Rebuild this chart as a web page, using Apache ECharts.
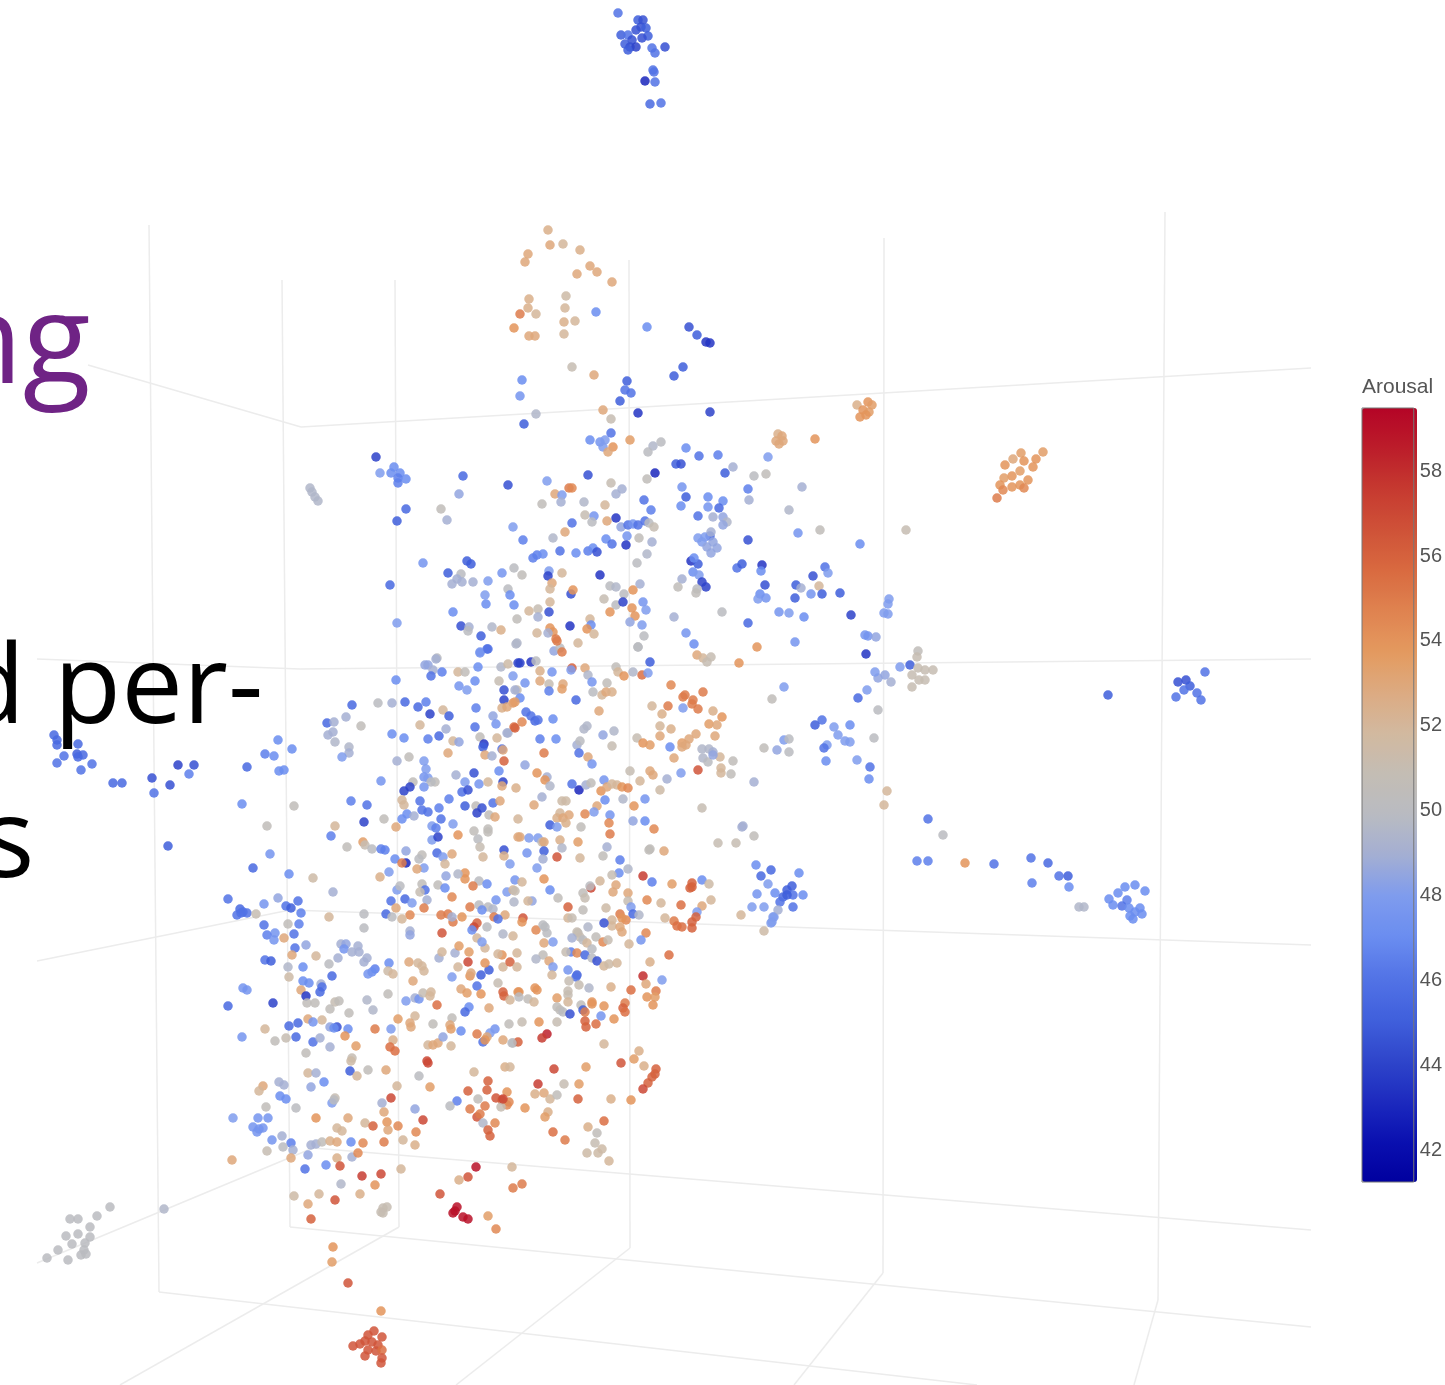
<!DOCTYPE html>
<html>
<head>
<meta charset="utf-8">
<title>Arousal</title>
<script src="https://cdn.jsdelivr.net/npm/echarts@6/dist/echarts.min.js"></script>
<style>
html, body { margin: 0; padding: 0; background: #fff; }
#chart { width: 1445px; height: 1385px; }
</style>
</head>
<body>
<div id="chart"></div>
<script>
let topCluster = [[618,13,46],[638,20,45],[643,20,44.5],[641,27,44.5],[646,28,45],[636,30,44.5],[621,35,45],[628,35,46],[648,36,45],[642,38,44.5],[632,40,44.5],[625,44,45],[630,47,44.5],[636,47,44],[628,50,45],[652,48,46],[665,47,44.5],[655,53,46],[653,70,46],[654,72,46],[645,81,43],[655,82,46],[650,104,45.5],[661,103,46]];

let upperGroup = [[548,230,52.5],[563,244,52],[550,245,53],[580,250,52.5],[528,254,53],[525,262,53],[590,266,53],[597,272,53],[577,274,53],[612,282,53],[566,296,51.5],[529,299,52.5],[528,308,52.5],[565,308,52],[520,314,55],[536,314,52],[575,321,52],[564,322,52.5],[596,312,47],[514,328,54],[529,336,53],[535,336,53],[564,334,52],[647,327,47],[689,327,44.5],[697,335,45],[706,342,43.5],[710,343,43.5],[683,367,45],[674,376,45],[572,367,51],[594,375,53],[522,380,47],[520,396,47.5],[627,381,45],[625,390,46],[631,393,46],[620,401,45],[778,434,52.5],[782,436,53],[776,441,53],[783,441,53],[779,444,53],[815,439,54],[857,405,52.5],[868,402,54],[872,405,53.5],[863,410,54],[869,412,53.5],[860,417,54],[866,415,54],[1021,453,53.5],[1043,452,53.5],[1036,459,54],[1013,459,53],[1024,461,54],[1005,465,54],[1033,467,54],[1020,471,53.5],[1012,476,54],[1004,478,53.5],[1028,480,54],[1020,485,54],[1012,487,54],[1024,488,54.5],[1000,485,54],[1003,490,54.5],[997,498,55],[310,488,49.5],[312,492,49.5],[315,497,49.5],[318,501,49.5]];

let midUpperLeft = [[376,457,44],[380,473,48],[391,473,47],[394,467,47],[400,473,47],[398,478,46.5],[406,479,47],[398,483,46.5],[406,509,45.5],[397,521,45],[463,476,45.5],[459,494,48.5],[441,509,50.5],[447,520,49],[508,485,44.5],[547,481,48],[588,475,44.5],[611,483,51],[622,489,49],[616,494,49],[569,488,55],[572,488,54.5],[555,494,53],[562,495,48],[561,502,49],[542,504,50.5],[584,502,49.5],[605,505,52],[644,500,46],[651,510,46.5],[655,473,43],[647,479,50.5],[536,414,49.5],[524,424,45],[603,410,53],[611,419,51],[638,413,43.5],[590,440,47],[611,433,46],[600,442,47.5],[605,440,48],[603,447,48],[613,447,54],[608,452,53],[630,440,53.5],[661,442,50],[653,446,49.5],[648,452,50],[585,515,51],[594,516,47.5],[592,522,50],[607,521,53],[616,518,43.5],[621,527,48.5],[628,525,46],[633,524,47.5],[638,525,46],[645,521,46],[649,523,50],[654,527,51],[572,523,46],[565,532,53],[553,538,49.5],[513,527,48],[523,540,46.5],[606,539,47],[612,544,46],[627,536,47.5],[626,545,43.5],[639,538,50.5],[652,542,49],[647,554,49.5],[637,563,50],[533,558,46.5],[537,555,46.5],[543,554,47],[560,551,46],[576,553,47],[588,551,46.5],[593,548,47],[597,552,44.5],[423,563,47.5],[467,561,45],[471,564,45],[448,573,45],[461,574,50],[457,579,49],[452,584,49],[462,582,49],[473,582,49],[488,581,48],[502,573,47.5],[514,568,50],[522,575,50.5],[549,571,48],[548,576,44],[562,573,52],[552,583,53],[550,589,52],[600,575,43.5],[610,586,50],[616,587,49.5],[640,584,49],[633,590,54],[624,594,50],[604,599,51],[616,605,50],[623,602,44],[643,602,47.5],[646,610,48],[632,608,54],[635,616,54],[610,612,54],[630,622,48.5],[642,625,48],[644,636,50],[638,647,50],[390,585,45.5],[485,595,48],[486,604,47],[508,589,50],[510,595,47],[514,605,47],[453,612,47],[397,623,48],[571,594,44.5],[573,590,54],[550,602,52],[529,611,52],[538,609,51],[538,617,49],[517,619,50.5],[549,612,44.5],[461,626,44.5],[469,627,49],[468,631,50],[492,627,49.5],[501,630,52.5],[481,636,45],[517,643,49.5],[487,649,46],[480,652,47.5],[437,658,50],[570,626,43.5],[550,628,54],[553,632,54],[537,633,52],[548,633,49],[590,619,52],[591,625,47],[587,629,54],[594,634,52],[556,639,55],[578,643,52],[554,651,48.5],[560,648,50],[562,652,55]];

let midUpperRight = [[710,412,44],[686,448,47],[699,456,46],[718,455,46.5],[676,464,45],[681,464,44.5],[725,473,45],[733,467,49],[754,476,50],[766,474,50.5],[768,457,48],[748,489,46.5],[749,500,49],[802,487,49],[789,510,49.5],[682,487,47.5],[686,497,45],[708,497,47],[681,506,47],[723,501,47],[708,507,47.5],[719,508,45.5],[698,516,46],[713,517,49],[723,517,48.5],[727,522,49.5],[723,525,48.5],[798,533,47.5],[820,530,50.5],[906,530,51],[860,544,47],[748,540,44.5],[710,536,45.5],[698,538,48],[705,537,48],[711,532,49],[702,542,48],[713,542,48.5],[707,547,48.5],[717,548,48.5],[711,553,48.5],[691,561,43.5],[698,564,45],[694,558,47],[693,572,47],[699,575,48],[682,579,49],[678,587,50.5],[702,582,44],[706,587,44],[697,589,50],[696,593,50.5],[737,568,46],[742,564,45],[762,565,43.5],[761,571,47],[765,585,44.5],[760,594,47],[758,599,48],[766,598,47.5],[825,567,46],[828,573,48],[813,576,44.5],[796,585,45],[801,588,49],[819,586,52],[811,594,47.5],[822,594,45],[840,593,45],[795,598,45],[674,617,49],[722,612,50],[779,612,47.5],[789,613,48],[804,617,47],[748,623,45.5],[851,615,44],[889,599,48],[888,604,48],[884,613,48],[888,614,48],[686,633,47.5],[694,644,47],[795,642,47.5],[757,647,54],[865,635,47.5],[868,636,47.5],[876,637,48.5],[866,654,43.5],[918,651,50.5],[917,657,51],[697,655,53],[703,658,52],[711,657,51],[707,662,51],[739,663,54]];

let farLeft = [[54,735,45.5],[57,740,45.5],[57,745,45.5],[78,744,45.5],[64,756,46],[57,763,46],[77,754,45],[83,755,45.5],[78,757,45.5],[92,764,46],[81,770,46],[113,783,45.5],[122,783,45.5],[152,778,44.5],[154,793,46],[170,785,44.5],[178,765,44],[194,765,44.5],[189,774,46.5],[168,846,45],[278,740,47],[292,749,47],[265,754,46.5],[274,756,47],[247,767,45.5],[279,771,47],[284,770,47],[242,804,47],[294,806,50.5],[267,826,50.5],[270,854,47.5],[253,868,45.5],[289,874,47]];

let centerLeft = [[396,680,47],[425,665,48.5],[428,665,48.5],[436,659,49],[433,670,49],[431,676,46],[442,672,46.5],[458,672,52],[465,672,50.5],[478,667,47],[480,653,47.5],[488,649,46],[516,644,49.5],[501,667,49.5],[508,664,51.5],[518,663,44],[459,686,47.5],[467,690,48],[475,681,47],[499,681,51],[513,676,48],[504,690,44.5],[517,690,51],[504,700,44],[513,703,54],[502,708,52.5],[507,707,53],[352,705,45.5],[378,703,50],[392,703,49],[405,702,45.5],[418,707,45.5],[426,702,46.5],[430,714,44],[443,710,52],[449,716,45],[476,708,46.5],[493,716,48.5],[496,724,47.5],[514,727,55.5],[508,733,49.5],[327,723,45.5],[334,722,49],[346,717,49],[361,726,50.5],[328,735,49],[333,732,49],[335,742,49.5],[349,747,49.5],[349,753,49],[342,757,48],[392,734,47],[404,738,47],[420,725,52],[428,739,46.5],[439,736,45.5],[446,729,49],[453,741,52],[459,742,48.5],[475,727,46],[480,737,50.5],[497,738,52],[484,744,43.5],[483,747,45],[502,749,46],[503,750,53],[485,755,53],[492,756,49],[448,753,53],[504,761,56],[397,761,49],[409,757,50.5],[424,761,48],[426,769,48],[424,777,47.5],[428,778,48],[435,782,50.5],[431,782,50],[413,782,50.5],[424,787,47.5],[381,781,47.5],[410,787,44],[404,791,44],[456,775,49],[474,773,44.5],[465,782,48],[479,784,47.5],[488,782,52],[499,771,47],[503,782,44],[502,786,53],[516,788,52.5],[462,792,46],[468,790,44.5],[449,799,46.5],[420,801,46],[402,800,52],[404,805,52],[351,801,46.5],[367,805,46],[439,808,46.5],[465,806,45],[476,806,50.5],[482,808,44.5],[493,803,46],[500,801,53],[477,813,44],[422,810,46],[428,812,46],[489,815,50.5],[495,817,53],[518,819,52],[402,819,47],[407,814,47],[414,816,49],[364,822,44],[384,819,50.5],[441,819,46],[396,827,53],[335,826,52],[331,836,46.5],[432,826,48],[436,828,46.5],[453,824,48],[432,840,48],[438,837,44],[458,835,54],[474,831,50.5],[488,829,50.5],[488,832,50.5],[478,839,50],[518,837,53],[363,842,53.5],[365,845,51],[347,847,50.5],[372,849,50],[381,849,46.5],[385,850,46.5],[406,851,48.5],[395,859,47],[437,853,45.5],[443,857,48],[452,854,53],[480,847,51],[504,850,44.5],[422,855,50.5],[419,859,50],[483,857,52],[504,856,52.5],[406,863,43],[402,863,55],[510,864,48],[424,868,48],[417,869,53],[445,864,52],[389,872,48],[380,877,52.5],[446,876,48.5],[465,873,54],[465,879,54],[515,880,47.5],[479,881,50],[458,874,49.5],[438,885,50.5],[422,884,50.5],[487,884,47],[473,886,55],[397,890,48],[400,886,50],[425,890,46],[420,892,51],[445,888,47],[507,892,48],[513,890,52],[514,902,49.5],[496,900,47.5],[452,897,54.5],[391,901,46],[405,899,45.5],[412,903,48],[427,900,49],[424,908,55],[396,908,53],[470,907,55],[479,905,50],[488,907,50],[493,909,49.5],[482,910,47],[386,914,45.5],[392,917,50],[410,915,54.5],[402,919,52],[441,915,55],[448,914,55],[462,917,54],[453,922,55],[452,917,49],[505,915,53],[494,917,55],[498,919,46],[477,923,56],[474,927,57],[472,930,47],[487,927,50],[364,914,50],[364,928,50],[329,917,52],[410,931,49],[410,935,48.5],[442,933,56.5],[503,934,49.5],[513,936,52],[477,938,52],[228,899,46],[240,909,45.5],[237,915,46],[243,912,46],[247,913,46],[241,913,46],[256,914,51],[264,904,47.5],[278,898,48.5],[286,906,46],[291,908,45],[298,901,46],[301,913,46.5],[264,925,46],[288,924,50.5],[299,924,46.5],[275,933,47.5],[267,935,46.5],[294,934,46],[284,938,53],[313,878,51.5],[333,892,49]];

let centerRight = [[638,647,50],[557,641,55],[520,663,44],[531,662,43.5],[536,661,50],[572,668,56],[571,670,48],[540,671,52.5],[552,672,47.5],[585,668,53],[525,683,47.5],[540,681,53],[563,684,53],[549,684,51],[562,689,53.5],[549,691,46.5],[588,675,49.5],[592,682,47.5],[607,683,50.5],[616,667,50.5],[618,672,52],[624,676,54],[633,672,49.5],[642,675,55.5],[648,673,48],[650,662,45],[593,692,50],[602,695,52],[606,692,53],[612,692,52.5],[515,690,49],[576,700,45.5],[520,698,47],[515,702,53.5],[599,711,53],[671,685,54.5],[652,706,52],[668,706,55],[683,697,55],[685,695,55],[693,700,55],[703,692,55],[692,704,55],[698,709,55],[683,708,48],[713,711,52.5],[722,717,54],[709,724,53.5],[717,725,53],[662,714,52.5],[660,726,52],[671,729,52.5],[660,736,53],[715,736,53],[696,734,53],[689,739,53],[682,743,53.5],[686,745,53],[682,747,53],[637,738,51],[643,743,54],[650,745,53.5],[670,747,47],[674,758,53],[526,712,46],[531,716,46],[535,721,45.5],[538,720,46],[553,719,47],[522,722,54.5],[515,728,56],[507,733,49],[587,726,49.5],[584,729,49.5],[614,731,49.5],[603,735,48.5],[540,739,46.5],[556,739,47],[577,745,49],[580,741,50],[612,746,51],[579,753,46],[544,753,55],[588,757,53],[592,764,47.5],[525,765,48.5],[702,749,49.5],[709,749,49.5],[713,752,49],[703,758,49.5],[708,762,50],[720,757,52],[713,755,48.5],[733,761,50.5],[764,748,50.5],[777,750,48.5],[784,740,48],[789,739,50],[789,752,50],[784,687,48],[772,699,50.5],[630,771,51],[650,771,53],[653,775,53],[681,773,48],[667,779,49],[698,770,56.5],[721,768,52],[721,773,52],[731,774,50.5],[754,782,49],[640,781,52],[660,790,51.5],[537,773,54],[547,777,49],[545,780,54],[550,786,49.5],[572,784,46],[579,790,43],[586,785,49],[591,783,50.5],[604,780,47.5],[601,791,54],[607,787,53],[612,784,52],[617,785,52],[622,787,54],[628,788,54.5],[542,797,49],[534,805,53],[562,801,51.5],[566,801,51.5],[597,806,53],[605,800,47],[623,799,49.5],[645,799,47.5],[634,806,54],[594,812,48],[585,814,54.5],[610,815,47.5],[702,808,51],[560,813,52],[569,815,53],[557,818,52.5],[563,818,53],[566,823,52.5],[550,825,45],[557,827,48],[581,827,50.5],[609,823,54.5],[633,821,48.5],[645,821,47],[654,829,54.5],[610,834,55],[743,826,49],[742,827,49],[754,836,50.5],[718,843,51],[736,843,51],[664,851,53],[650,849,50.5],[649,850,50.5],[520,837,53],[529,838,48],[538,838,48],[542,842,51],[544,842,53],[560,840,52.5],[578,842,53.5],[562,848,49.5],[607,847,49],[527,853,47.5],[544,851,45],[543,859,49],[557,857,56.5],[580,858,52],[603,856,50.5],[620,860,46.5],[537,868,48],[619,873,47],[628,869,49.5],[612,875,51],[544,879,54],[522,882,52],[600,881,52],[643,876,57.5],[652,882,46.5],[672,884,53.5],[692,883,56],[692,887,56],[690,888,56],[702,880,47],[709,884,51.5],[591,888,57],[590,886,50],[616,885,53],[613,892,53],[550,890,47],[515,891,51],[583,893,50.5],[628,893,53],[558,898,50.5],[585,898,51],[532,901,48.5],[528,901,52],[628,901,51],[647,900,54.5],[661,903,52],[681,905,55.5],[711,900,52],[702,906,53],[697,912,48],[568,907,56],[583,910,50.5],[606,908,51.5],[631,907,48],[523,918,56.5],[522,922,54],[620,914,55],[633,914,45.5],[639,915,49.5],[626,920,54.5],[622,918,54],[612,920,52],[612,926,52],[620,927,53],[622,932,53],[604,923,44.5],[568,918,52],[572,918,51],[665,918,52],[674,921,55],[677,926,55.5],[682,927,55.5],[692,922,56],[696,917,56],[692,928,56],[741,915,52],[764,931,51.5],[772,922,48],[774,917,48],[536,930,54.5],[545,927,50],[547,933,50],[588,927,49.5],[578,933,50.5],[580,937,51],[646,933,54.5]];

let rightGroups = [[756,865,47],[771,870,45.5],[761,876,45.5],[768,884,48],[799,873,47],[757,894,47.5],[775,893,47],[787,890,45],[792,886,45],[783,897,45.5],[793,895,46],[780,902,46],[793,907,46],[752,907,48],[764,907,48],[778,910,49],[773,917,48],[771,923,48],[787,895,45],[803,895,47],[1205,672,46],[1186,680,44.5],[1178,682,44.5],[1190,686,45],[1184,690,46],[1197,693,46],[1176,697,46],[1201,700,46],[1108,695,45],[910,665,45],[900,667,48],[918,668,51],[925,670,51],[933,670,51],[912,675,51],[919,680,51],[885,675,48.5],[878,678,48.5],[875,672,48],[891,682,49],[912,687,51],[925,680,51],[858,698,45.5],[867,690,48],[878,710,50],[822,720,46],[815,725,45],[834,727,48],[850,725,47],[838,735,48],[845,741,48],[827,745,48],[850,742,48],[874,738,50],[826,761,47],[824,748,46],[857,760,48],[870,767,46],[869,779,47],[887,791,52],[884,805,52],[928,819,46],[943,835,50],[917,861,46.5],[928,861,46.5],[965,863,54],[994,864,46],[1031,858,46],[1048,863,45.5],[1032,883,46.5],[1059,876,46],[1068,876,45],[1069,887,47],[1079,907,49.5],[1084,907,49.5],[1109,899,47],[1118,893,47],[1125,887,47],[1135,885,47],[1145,891,47],[1113,905,47],[1127,900,46.5],[1122,906,46],[1129,908,47],[1140,908,47],[1135,912,47],[1130,916,47],[1142,914,47],[1133,919,47]];

let lowerLeft = [[274,940,47.5],[295,948,46],[306,945,48.5],[292,955,53],[316,956,52],[265,960,46],[271,961,45],[288,967,49.5],[303,967,47],[329,964,50],[338,958,49],[341,944,49],[346,944,48.5],[344,949,47.5],[352,952,49],[358,946,49],[359,952,49],[367,958,49],[364,962,49],[389,963,47],[375,969,46.5],[372,972,47],[368,974,47.5],[332,976,45.5],[388,971,51.5],[393,974,52],[289,977,51.5],[303,981,47],[309,983,47],[321,984,49],[322,987,46],[320,992,45.5],[301,990,53],[306,996,43.5],[243,988,47.5],[247,990,47.5],[388,994,50.5],[228,1006,45.5],[273,1003,44],[307,1003,50.5],[315,1003,50.5],[335,1002,51],[339,1001,50.5],[367,1000,49.5],[330,1009,50.5],[349,1013,50.5],[373,1010,49.5],[406,1001,48],[415,998,49],[419,999,47.5],[423,993,51],[431,992,52],[430,996,52],[437,1005,55.5],[413,981,53],[409,962,53],[418,963,52],[424,971,52],[422,966,52],[439,958,49],[442,952,52],[452,977,48],[455,953,49],[459,946,53.5],[469,952,53.5],[468,962,57],[458,967,52],[470,976,54],[471,973,53],[485,948,52],[482,942,48],[481,975,45],[489,970,45],[485,963,54],[477,986,46],[461,989,53],[467,993,53.5],[481,994,54],[469,1007,47],[465,1012,45.5],[489,1008,53],[498,983,51],[502,955,54],[498,954,52],[503,967,52],[510,962,56],[517,953,52],[517,967,52],[503,992,56],[504,996,56],[510,1000,52],[518,992,54],[398,1019,53.5],[415,1016,52],[410,1023,53],[411,1027,53],[433,1024,50.5],[452,1018,50.5],[450,1025,53],[451,1029,53.5],[461,1031,47],[477,1034,55],[495,1029,47.5],[490,1033,48],[487,1037,53],[509,1024,50.5],[483,1042,46],[485,1040,54],[265,1029,52],[289,1026,45.5],[298,1023,45.5],[308,1019,53],[322,1020,52],[313,1022,47.5],[330,1027,48.5],[337,1027,44.5],[334,1028,47],[348,1029,47],[375,1029,55],[391,1029,48],[242,1037,47.5],[275,1041,50.5],[286,1038,51],[296,1037,45.5],[313,1042,46],[320,1038,49],[330,1047,49],[345,1036,54],[356,1046,53.5],[393,1040,52.5],[390,1047,55.5],[395,1051,55.5],[306,1053,50.5],[428,1045,52],[433,1045,53],[438,1043,53],[443,1037,48.5],[451,1046,52],[503,1040,53],[513,1043,50],[518,1042,56],[352,1058,51],[351,1061,51.5],[350,1071,45],[357,1076,52],[368,1070,50.5],[386,1070,53],[427,1061,57],[428,1063,57],[419,1076,50],[308,1073,52],[316,1073,49],[324,1082,47],[311,1087,48.5],[279,1082,49],[284,1085,49],[263,1086,53],[259,1091,52],[397,1086,52],[430,1087,53.5],[474,1072,52],[505,1067,52.5],[510,1067,52],[488,1081,56],[468,1091,56],[487,1090,56],[507,1092,54],[280,1096,47],[286,1099,47],[335,1098,51],[332,1103,48],[334,1100,50],[382,1103,49],[391,1098,57],[457,1101,46.5],[450,1106,50],[478,1099,50.5],[485,1106,55],[496,1098,56.5],[502,1100,56],[509,1102,54.5],[507,1105,54.5],[501,1107,51],[266,1107,50.5],[296,1108,50],[233,1118,48],[258,1118,47.5],[268,1118,47.5],[253,1127,47.5],[257,1132,47.5],[263,1128,47.5],[259,1129,47.5],[316,1118,54],[348,1118,53],[384,1112,53],[415,1109,48.5],[470,1109,55],[477,1117,56.5],[480,1114,55],[423,1120,57],[483,1123,49.5],[365,1123,52],[373,1126,56],[387,1122,54],[388,1130,53],[398,1126,54.5],[337,1128,52],[342,1131,52],[416,1132,54.5],[495,1123,54.5],[488,1130,56],[490,1136,56],[272,1140,47.5],[282,1136,49],[291,1143,46.5],[283,1147,50],[267,1151,51],[293,1150,49],[311,1145,49],[316,1144,49],[322,1142,50.5],[330,1141,52.5],[337,1142,53],[351,1142,47],[363,1143,54.5],[384,1142,55],[403,1140,52],[415,1145,52.5],[232,1160,53],[291,1158,53],[308,1155,48.5],[337,1158,52.5],[352,1157,49],[358,1153,54.5],[305,1169,46],[326,1165,47],[340,1166,56.5],[401,1169,52],[512,1167,52],[362,1176,57.5],[381,1174,57],[341,1184,49.5],[375,1185,54],[459,1180,52.5],[468,1177,56.5],[476,1167,59],[513,1188,55],[319,1194,52],[294,1196,51.5],[335,1200,56.5],[360,1194,52.5],[440,1194,56.5],[308,1204,53],[383,1208,51],[381,1212,51],[387,1207,51],[383,1213,51],[311,1219,56],[455,1211,59],[453,1213,59],[457,1207,59],[463,1217,59],[468,1219,59],[488,1216,53.5],[496,1229,54.5]];

let lowerRight = [[544,943,53],[553,942,48],[543,925,50],[577,932,51],[572,938,49],[583,940,50],[587,943,52],[596,937,50.5],[603,942,54.5],[608,940,51],[592,949,50],[629,944,52],[641,940,47.5],[571,952,46.5],[577,953,54.5],[566,952,51],[585,955,45.5],[592,958,50],[597,961,44.5],[604,966,52],[609,964,51.5],[617,963,52],[669,955,55.5],[650,962,52.5],[543,955,50.5],[536,959,49.5],[549,961,53],[553,967,48],[552,975,52],[568,970,47.5],[577,975,45],[576,977,46],[643,976,58],[662,980,48],[569,981,51],[579,985,51],[589,988,49.5],[611,987,52.5],[631,990,55.5],[646,984,53],[656,991,55],[568,991,51],[568,995,51],[535,988,54],[537,990,54],[519,992,54],[557,998,53.5],[568,1002,52],[592,1002,54],[647,997,54],[655,997,53.5],[519,997,50],[528,999,50.5],[534,1002,52],[592,1004,54],[604,1006,54],[581,1005,50.5],[557,1007,50.5],[653,1005,54],[625,1003,55],[623,1008,56],[625,1012,55.5],[583,1010,45],[585,1012,55],[560,1010,50.5],[563,1012,50],[570,1014,44.5],[601,1016,47.5],[614,1019,54],[585,1021,56],[596,1024,55.5],[586,1027,56],[522,1022,51],[539,1022,54],[557,1022,51],[547,1034,58.5],[542,1038,57.5],[512,1043,50],[604,1044,52],[639,1051,52.5],[634,1059,53.5],[644,1066,52.5],[621,1063,56.5],[586,1067,53.5],[554,1069,57],[656,1069,56],[655,1074,56],[652,1077,56],[648,1083,56],[643,1089,57],[538,1084,57.5],[564,1084,51],[579,1084,53.5],[535,1094,52.5],[544,1093,53],[550,1099,52],[557,1095,50.5],[578,1099,56],[611,1099,52.5],[631,1100,54],[503,1099,57],[525,1108,54],[548,1112,52.5],[545,1117,53.5],[604,1121,55.5],[588,1127,52.5],[553,1132,55.5],[565,1140,55],[597,1133,50.5],[595,1143,51],[587,1153,51.5],[598,1153,51.5],[602,1149,51.5],[609,1161,52],[522,1184,55]];

let bottomGroups = [[333,1247,54],[332,1262,53.5],[348,1283,56.5],[381,1311,54],[374,1331,56.5],[368,1335,56.5],[382,1337,56.5],[353,1346,56.5],[360,1344,56.5],[365,1341,56.5],[372,1342,56.5],[378,1345,56.5],[368,1350,56.5],[376,1351,56.5],[382,1350,55.5],[365,1356,56.5],[382,1358,56.5],[381,1363,56.5],[110,1207,50],[97,1216,50],[78,1219,50],[70,1219,50],[90,1227,50],[78,1234,50],[66,1236,50],[90,1237,50],[85,1243,50],[72,1244,50],[84,1250,50],[81,1255,50],[47,1258,50],[68,1260,50],[86,1254,50],[58,1250,50],[164,1209,49.5]];

// wireframe of the 3d box, [x1, y1, x2, y2]
let boxLines = [[149,225,159,1292],[282,280,290,1227],[395,280,399,1227],[629,260,630,1248],[884,238,883,1273],[1165,212,1158,1300],[88,365,301,427],[301,427,1311,368],[37,659,300,669],[300,669,1311,659],[37,961,290,910],[290,910,1311,945],[37,1263,313,1148],[313,1148,1311,1230],[290,1227,1311,1327],[159,1292,977,1385],[399,1227,120,1385],[630,1248,456,1385],[883,1273,794,1385],[1158,1300,1134,1385]];

let colorTicks = [42, 44, 46, 48, 50, 52, 54, 56, 58];
let colorMin = 41.25;
let colorMax = 59.49;
let colorStops = ['#00009f','#0a10b0','#1d2bbf','#2f46cb','#4060dc','#5273e6','#6a8df0','#7e9bee','#a3aed3','#b9bbc2','#c3bdb4','#d2b9a0','#dcab82','#e49a5f','#df8350','#d96a40','#cf5238','#c63a30','#bc1d2a','#b40426'];

let allPoints = topCluster.concat(upperGroup, midUpperLeft, midUpperRight, farLeft, centerLeft, centerRight, rightGroups, lowerLeft, lowerRight, bottomGroups);

let boxSeries = boxLines.map(function (l) {
    return {
        type: 'line',
        xAxisIndex: 0,
        yAxisIndex: 0,
        data: [[l[0], l[1]], [l[2], l[3]]],
        showSymbol: false,
        silent: true,
        z: 1,
        lineStyle: {color: '#ececec', width: 1.5}
    };
});

let myChart = echarts.init(document.getElementById('chart'));
let option = {
    animation: false,
    backgroundColor: '#ffffff',
    title: {
        text: 'Arousal',
        left: 1362,
        top: 377,
        padding: 0,
        textStyle: {fontFamily: 'Liberation Sans', fontSize: 21, fontWeight: 'normal', color: '#555555'}
    },
    grid: [
        {left: 0, top: 0, width: 1445, height: 1385},
        {left: 1362, top: 408, width: 55, height: 774, show: true, z: 10, borderColor: '#777777', borderWidth: 1, backgroundColor: 'transparent'}
    ],
    xAxis: [
        {type: 'value', min: 0, max: 1445, show: false, gridIndex: 0},
        {type: 'value', min: 0, max: 1, show: false, gridIndex: 1}
    ],
    yAxis: [
        {type: 'value', min: 0, max: 1385, inverse: true, show: false, gridIndex: 0},
        {
            type: 'value',
            gridIndex: 1,
            min: colorMin,
            max: colorMax,
            position: 'right',
            axisLine: {show: false},
            axisTick: {show: false},
            splitLine: {show: false},
            axisLabel: {
                customValues: colorTicks,
                margin: 6,
                fontFamily: 'Liberation Sans',
                fontSize: 20,
                color: '#555555'
            }
        }
    ],
    visualMap: {
        type: 'continuous',
        seriesIndex: 0,
        dimension: 2,
        min: colorMin,
        max: colorMax,
        left: 1362,
        top: 408,
        padding: 0,
        itemWidth: 55,
        itemHeight: 774,
        calculable: false,
        realtime: false,
        showLabel: false,
        text: null,
        inRange: {color: colorStops}
    },
    series: [{
        type: 'scatter',
        xAxisIndex: 0,
        yAxisIndex: 0,
        data: allPoints,
        symbolSize: 9.5,
        z: 2,
        itemStyle: {opacity: 0.85}
    }].concat(boxSeries),
    graphic: [
        {type: 'text', left: -54, top: 285, z: 100, style: {text: 'ng', font: '125px "Open Sans"', fill: '#6f2385'}},
        {type: 'text', left: -42, top: 637, z: 100, style: {text: 'd per-', font: '110px "Open Sans"', fill: '#000000'}},
        {type: 'text', left: -18, top: 791, z: 100, style: {text: 's', font: '110px "Open Sans"', fill: '#000000'}}
    ]
};
myChart.setOption(option);
</script>
</body>
</html>
